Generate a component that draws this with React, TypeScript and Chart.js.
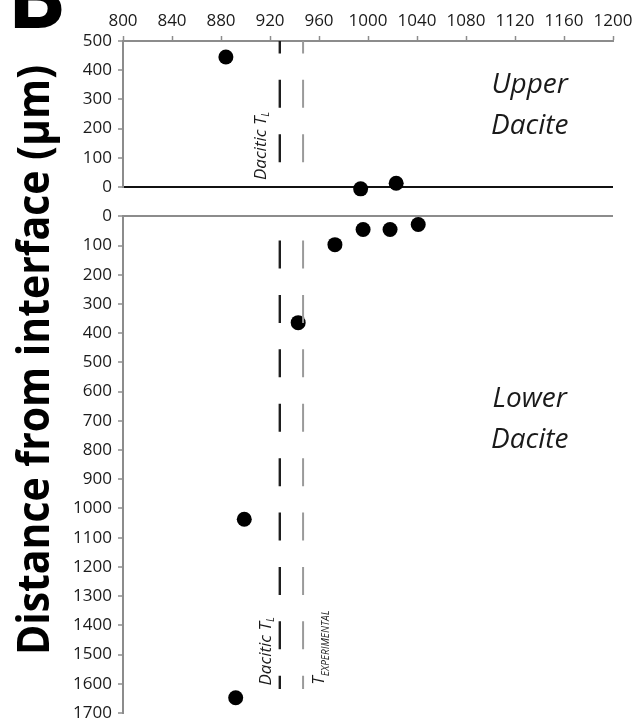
import React, { useEffect, useRef } from "react";
import { Chart, registerables } from "chart.js";

Chart.register(...registerables);

// ---- data ----
const xMin = 800;
const xMax = 1200;
const xStep = 40;
const upperMax = 500;
const lowerMax = 1700;
const yStep = 100;
const gapSize = 100;

const upperTemp = [884, 994, 1023];
const upperDist = [445, -6, 13];

const lowerTemp = [996, 1018, 1041, 973, 943, 899, 892];
const lowerDist = [45, 45, 28, 97, 364, 1037, 1648];

const daciticTL = 928;
const tExperimental = 947;
const upperLineSpan = [85, 500];
const lowerLineSpan = [83, 1618];

const yTitle = "Distance from interface (\u03bcm)";
const panelLabel = "B";
const upperLabel = ["Upper", "Dacite"];
const lowerLabel = ["Lower", "Dacite"];

const FONT = '"Open Sans", "DejaVu Sans", sans-serif';
const AXIS_GRAY = "#8c8c8c";
const TEXT = "#1a1a1a";

type Part = { text: string; font: string; dv: number };

function drawRotated(ctx: CanvasRenderingContext2D, parts: Part[], x: number, y: number) {
  ctx.save();
  ctx.translate(x, y);
  ctx.rotate(-Math.PI / 2);
  ctx.textAlign = "left";
  ctx.textBaseline = "alphabetic";
  let u = 0;
  for (const p of parts) {
    ctx.font = p.font;
    ctx.fillText(p.text, u, p.dv);
    u += ctx.measureText(p.text).width;
  }
  ctx.restore();
}

const annotationPlugin = {
  id: "annotationText",
  afterDraw(chart: any) {
    const ctx: CanvasRenderingContext2D = chart.ctx;
    const xs = chart.scales.x;
    const yU = chart.scales.yU;
    const yL = chart.scales.yL;
    ctx.save();
    ctx.fillStyle = "#000";
    // panel letter
    ctx.font = `bold 88px ${FONT}`;
    ctx.textAlign = "left";
    ctx.textBaseline = "alphabetic";
    ctx.fillText(panelLabel, 7, 28);

    // y-axis title
    ctx.save();
    ctx.translate(49, 360);
    ctx.rotate(-Math.PI / 2);
    ctx.font = `bold 44px ${FONT}`;
    const w = ctx.measureText(yTitle).width;
    ctx.scale(590 / w, 1);
    ctx.textAlign = "center";
    ctx.fillText(yTitle, 0, 0);
    ctx.restore();

    // region labels
    ctx.fillStyle = TEXT;
    ctx.font = `italic 28px ${FONT}`;
    ctx.textAlign = "center";
    const cx = xs.getPixelForValue(1132);
    ctx.fillText(upperLabel[0], cx, 93);
    ctx.fillText(upperLabel[1], cx, 134);
    ctx.fillText(lowerLabel[0], cx, 407);
    ctx.fillText(lowerLabel[1], cx, 448);

    // rotated line labels
    const main = `italic 17px ${FONT}`;
    const sub = `italic 10px ${FONT}`;
    const pxTL = xs.getPixelForValue(daciticTL);
    const pxTE = xs.getPixelForValue(tExperimental);
    drawRotated(
      ctx,
      [
        { text: "Dacitic T", font: main, dv: 0 },
        { text: "L", font: sub, dv: 3 },
      ],
      pxTL - 14,
      yU.bottom - 7
    );
    drawRotated(
      ctx,
      [
        { text: "Dacitic T", font: main, dv: 0 },
        { text: "L", font: sub, dv: 3 },
      ],
      pxTL - 9,
      yL.getPixelForValue(1606)
    );
    drawRotated(
      ctx,
      [
        { text: "T", font: main, dv: 0 },
        { text: "EXPERIMENTAL", font: sub, dv: 5 },
      ],
      pxTE + 21,
      yL.getPixelForValue(1603)
    );
    ctx.restore();
  },
};

const plain = (v: any) => String(v);

function yAxis(max: number, weight: number, reverse: boolean, zeroColor: string) {
  return {
    type: "linear",
    position: "left",
    stack: "v",
    stackWeight: weight,
    min: 0,
    max,
    reverse,
    ticks: {
      stepSize: yStep,
      autoSkip: false,
      color: TEXT,
      padding: 6,
      font: { family: FONT, size: 17 },
      callback: plain,
    },
    grid: {
      drawOnChartArea: true,
      drawTicks: true,
      tickLength: 5,
      tickColor: AXIS_GRAY,
      tickWidth: 1.5,
      lineWidth: 2,
      color: (c: any) => (c.tick && c.tick.value === 0 ? zeroColor : "rgba(0,0,0,0)"),
    },
    border: { display: true, color: AXIS_GRAY, width: 2 },
    afterFit: (s: any) => {
      s.width = 123;
      s.paddingTop = 0;
      s.paddingBottom = 0;
    },
  };
}

export default function App() {
  const ref = useRef<HTMLCanvasElement | null>(null);

  useEffect(() => {
    if (!ref.current) return;
    const upperPts = upperTemp.map((t, i) => ({ x: t, y: upperDist[i] }));
    const lowerPts = lowerTemp.map((t, i) => ({ x: t, y: lowerDist[i] }));
    const vline = (x: number, span: number[], axis: string, color: string, width: number) => ({
      data: [{ x, y: span[0] }, { x, y: span[1] }],
      yAxisID: axis,
      showLine: true,
      borderColor: color,
      borderWidth: width,
      borderDash: [28, 26.4],
      pointRadius: 0,
      fill: false,
    });
    const chart = new Chart(ref.current, {
      type: "scatter",
      data: {
        datasets: [
          vline(daciticTL, upperLineSpan, "yU", "#1e1e1e", 2.4),
          vline(tExperimental, upperLineSpan, "yU", "#9a9a9a", 2),
          vline(daciticTL, lowerLineSpan, "yL", "#1e1e1e", 2.4),
          vline(tExperimental, lowerLineSpan, "yL", "#9a9a9a", 2),
          {
            data: upperPts,
            yAxisID: "yU",
            pointRadius: 7.5,
            pointBackgroundColor: "#000",
            pointBorderWidth: 0,
            clip: false,
          },
          {
            data: lowerPts,
            yAxisID: "yL",
            pointRadius: 7.5,
            pointBackgroundColor: "#000",
            pointBorderWidth: 0,
            clip: false,
          },
        ] as any,
      },
      options: {
        responsive: false,
        animation: false,
        layout: { padding: { left: 0, top: 0, right: 26, bottom: 11 } },
        plugins: { legend: { display: false }, tooltip: { enabled: false } },
        scales: {
          x: {
            type: "linear",
            position: "top",
            min: xMin,
            max: xMax,
            ticks: {
              stepSize: xStep,
              autoSkip: false,
              maxRotation: 0,
              color: TEXT,
              padding: 5,
              font: { family: FONT, size: 17 },
              callback: plain,
            },
            grid: {
              drawOnChartArea: false,
              drawTicks: true,
              tickLength: 5,
              tickColor: AXIS_GRAY,
              tickWidth: 1.5,
            },
            border: { display: true, color: AXIS_GRAY, width: 2 },
            afterFit: (s: any) => {
              s.height = 41;
            },
          },
          yL: yAxis(lowerMax, lowerMax, true, AXIS_GRAY),
          yG: {
            type: "linear",
            position: "left",
            stack: "v",
            stackWeight: gapSize,
            display: false,
            min: 0,
            max: gapSize,
          },
          yU: yAxis(upperMax, upperMax, false, "#111"),
        } as any,
      },
      plugins: [annotationPlugin],
    });
    return () => chart.destroy();
  }, []);

  return (
    <div style={{ position: "fixed", left: 0, top: 0, width: 639, height: 724, background: "#fff" }}>
      <canvas ref={ref} width={639} height={724} style={{ display: "block" }} />
    </div>
  );
}
